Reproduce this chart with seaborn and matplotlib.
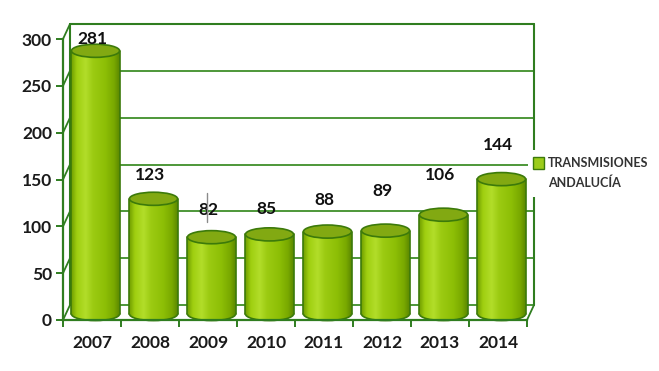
import numpy as np
import matplotlib
matplotlib.use("Agg")
import matplotlib.pyplot as plt
import seaborn as sns
from matplotlib.transforms import ScaledTranslation
from matplotlib.patches import Ellipse, Rectangle
from matplotlib.lines import Line2D
from matplotlib.colors import LinearSegmentedColormap

years = ["2007", "2008", "2009", "2010", "2011", "2012", "2013", "2014"]
values = [281, 123, 82, 85, 88, 89, 106, 144]
yticks = [0, 50, 100, 150, 200, 250, 300]
legend_label = "TRANSMISIONES\nANDALUCÍA"
# label vertical offsets above bar tops (pixels)
label_offsets_px = [18, 30, 33, 31, 38, 46, 46, 40]

sns.set_style("white")
plt.rcParams["font.family"] = ["Lato", "DejaVu Sans"]

W, H = 659, 371
fig = plt.figure(figsize=(W / 100, H / 100), dpi=100)
ax = fig.add_axes([63 / W, (H - 320) / H, 464 / W, 281 / H])

sns.barplot(x=years, y=values, ax=ax, width=0.83, color="#8cc000",
            saturation=1, zorder=3)
ax.set_xlim(-0.5, 7.5)
ax.set_ylim(0, 300)

frame = "#2f7d1f"
grid = "#3f8f2a"
edge = "#3c7a0a"

tr_back = ax.transData + ScaledTranslation(0.07, 0.15, fig.dpi_scale_trans)
tr_bar = ax.transData + ScaledTranslation(0.035, 0.06, fig.dpi_scale_trans)

# back wall and gridlines
for t in yticks:
    ax.plot([-0.5, 7.5], [t, t], color=grid, lw=1.3, transform=tr_back,
            clip_on=False, zorder=1)
ax.plot([-0.5, -0.5], [0, 300], color=frame, lw=1.5, transform=tr_back, clip_on=False, zorder=1)
ax.plot([7.5, 7.5], [0, 300], color=frame, lw=1.5, transform=tr_back, clip_on=False, zorder=1)
ax.plot([-0.5, 7.5], [300, 300], color=frame, lw=1.5, transform=tr_back, clip_on=False, zorder=1)

# connectors between front and back
fig.canvas.draw()
def px(xd, yd, tr):
    return tr.transform((xd, yd))
inv = ax.transData.inverted()
for t in yticks:
    pa = inv.transform(px(-0.5, t, ax.transData))
    pb = inv.transform(px(-0.5, t, tr_back))
    ax.plot([pa[0], pb[0]], [pa[1], pb[1]], color=frame, lw=1.3, clip_on=False, zorder=1)
a = inv.transform(px(7.5, 0, ax.transData)); b = inv.transform(px(7.5, 0, tr_back))
ax.plot([a[0], b[0]], [a[1], b[1]], color=frame, lw=1.3, clip_on=False, zorder=1)

# cylinders
body = LinearSegmentedColormap.from_list("body", [
    (0.0, "#6f9c00"), (0.12, "#9fcf10"), (0.3, "#b2dd2a"), (0.45, "#9ccb12"),
    (0.7, "#8dbf06"), (0.88, "#79a900"), (1.0, "#5a8600")])
grad = np.linspace(0, 1, 256).reshape(1, -1)
eh = 14.0
for p in list(ax.patches):
    x0, w, h = p.get_x(), p.get_width(), p.get_height()
    cx = x0 + w / 2
    p.set_transform(tr_bar)
    p.set_facecolor("none")
    p.set_edgecolor("none")
    be = Ellipse((cx, 0), w, eh, transform=tr_bar, fc="none", ec=edge, lw=1.2, zorder=2)
    ax.add_patch(be)
    be.set_clip_box(fig.bbox)
    im = ax.imshow(grad, extent=[x0, x0 + w, -eh / 2, eh / 2], aspect="auto",
                   cmap=body, transform=tr_bar, zorder=1.9)
    im.set_clip_path(be)
    im.set_clip_box(fig.bbox)
    im2 = ax.imshow(grad, extent=[x0, x0 + w, 0, h], aspect="auto",
                    cmap=body, transform=tr_bar, zorder=3)
    im2.set_clip_path(p)
    im2.set_clip_box(fig.bbox)
    for xx in (x0, x0 + w):
        ln = ax.plot([xx, xx], [0, h], color=edge, lw=1.2, transform=tr_bar, zorder=4)[0]
        ln.set_clip_box(fig.bbox)
    cap = Ellipse((cx, h), w, eh, transform=tr_bar, fc="#82a912", ec=edge, lw=1.2, zorder=5)
    ax.add_patch(cap)
    cap.set_clip_box(fig.bbox)

ax.set_xlim(-0.5, 7.5)
ax.set_ylim(0, 300)

# value labels
for i, (v, off) in enumerate(zip(values, label_offsets_px)):
    ax.annotate(str(v), xy=(i, v), xytext=(0, off * 0.72), textcoords="offset points",
                ha="center", va="center", fontsize=12.5, fontweight="bold",
                color="#111111", zorder=6, annotation_clip=False)

# axes styling
for s in ["top", "right"]:
    ax.spines[s].set_visible(False)
for s in ["left", "bottom"]:
    ax.spines[s].set_color(frame)
    ax.spines[s].set_linewidth(1.6)
ax.set_yticks(yticks)
ax.set_yticklabels([str(t) for t in yticks], fontsize=12.5, fontweight="bold", color="#1a1a1a")
ax.set_xticks(range(len(years)))
ax.set_xticklabels(years, fontsize=12.5, fontweight="bold", color="#1a1a1a")
ax.set_xticks(np.arange(-0.5, 8, 1), minor=True)
ax.tick_params(axis="y", length=5, width=1.4, color=frame, pad=3, direction="out", left=True)
ax.tick_params(axis="x", which="major", length=0, pad=11)
ax.tick_params(axis="x", which="minor", length=5, width=1.4, color=frame, direction="out", bottom=True)
ax.set_xlabel("")
ax.set_ylabel("")
ax.grid(False)

# legend
fig.patches.append(Rectangle((528 / W, 1 - 197 / H), 131 / W, 47 / H, transform=fig.transFigure,
                             fc="white", ec="none", zorder=5))
fig.patches.append(Rectangle((533 / W, 1 - 169 / H), 11 / W, 12 / H, transform=fig.transFigure,
                             fc="#9ccc1a", ec=edge, lw=1.0, zorder=6))
fig.text(548 / W, 1 - 163 / H, "TRANSMISIONES", fontsize=9, fontweight="bold",
         color="#333333", va="center", ha="left", zorder=7)
fig.text(548 / W, 1 - 183 / H, "ANDALUCÍA", fontsize=9, fontweight="bold",
         color="#333333", va="center", ha="left", zorder=7)

fig.add_artist(Line2D([207 / W, 207 / W], [1 - 193 / H, 1 - 222 / H], color="#8a8a8a", lw=1))

fig.savefig("out.png", dpi=100)
